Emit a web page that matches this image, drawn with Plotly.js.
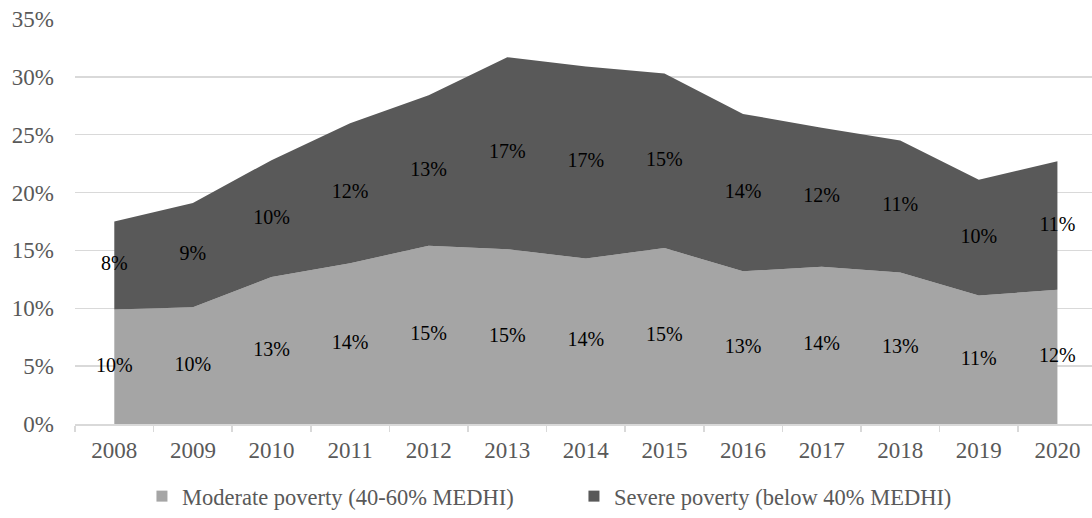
<!DOCTYPE html>
<html>
<head>
<meta charset="utf-8">
<script src="https://cdn.plot.ly/plotly-3.0.1.min.js"></script>
<style>html,body{margin:0;padding:0;background:#fff;}#chart{width:1092px;height:518px;}</style>
</head>
<body>
<div id="chart"></div>
<script>
var years = ['2008','2009','2010','2011','2012','2013','2014','2015','2016','2017','2018','2019','2020'];
var moderate = [9.9, 10.1, 12.7, 13.9, 15.4, 15.1, 14.3, 15.2, 13.2, 13.6, 13.1, 11.1, 11.6];
var severe = [7.6, 9.0, 10.1, 12.1, 13.0, 16.6, 16.6, 15.1, 13.6, 12.0, 11.4, 10.0, 11.1];
var seriesNames = ['Moderate poverty (40-60% MEDHI)', 'Severe poverty (below 40% MEDHI)'];
var colors = ['#a5a5a5', '#595959'];

var FONT = 'Liberation Serif, Times New Roman, serif';
function pct(v){ return Math.round(v) + '%'; }

var modMid = moderate.map(function(v){ return v/2; });
var sevMid = moderate.map(function(v,i){ return v + severe[i]/2; });

var traces = [
  {x: years, y: moderate, type:'scatter', mode:'none', stackgroup:'one', fillcolor: colors[0], line:{width:0}, showlegend:false, hoverinfo:'skip'},
  {x: years, y: severe, type:'scatter', mode:'none', stackgroup:'one', fillcolor: colors[1], line:{width:0}, showlegend:false, hoverinfo:'skip'},
  {x: years, y: modMid, type:'scatter', mode:'text', text: moderate.map(pct), textposition:'middle center', textfont:{family:FONT, size:20, color:'#000'}, showlegend:false, hoverinfo:'skip'},
  {x: years, y: sevMid, type:'scatter', mode:'text', text: severe.map(pct), textposition:'middle center', textfont:{family:FONT, size:20, color:'#000'}, showlegend:false, hoverinfo:'skip'},
  {x: [null], y: [null], type:'scatter', mode:'markers', name: seriesNames[0], marker:{symbol:'square', size:11, color: colors[0]}},
  {x: [null], y: [null], type:'scatter', mode:'markers', name: seriesNames[1], marker:{symbol:'square', size:11, color: colors[1]}}
];

var layout = {
  width: 1092, height: 518,
  margin: {l: 75, r: 0, t: 19, b: 94},
  paper_bgcolor: '#fff', plot_bgcolor: '#fff',
  font: {family: FONT, size: 23, color: '#595959'},
  xaxis: {
    type: 'category', range: [-0.5, 12.44],
    showgrid: false, zeroline: false,
    showline: true, linecolor: '#d9d9d9', linewidth: 1.5,
    ticks: 'outside', tickson: 'boundaries', ticklen: 6, tickcolor: '#d9d9d9', tickwidth: 1.5,
    tickfont: {family: FONT, size: 23, color: '#595959'},
    ticklabelstandoff: 5
  },
  yaxis: {
    range: [0, 35], dtick: 5, ticksuffix: '%',
    showgrid: true, gridcolor: '#d9d9d9', gridwidth: 1.5,
    zeroline: false, showline: false, ticks: '',
    tickfont: {family: FONT, size: 23, color: '#595959'},
    ticklabelstandoff: 20
  },
  showlegend: true,
  legend: {orientation: 'h', traceorder: 'normal', x: 0.130, xanchor: 'left', xref: 'container', y: 2, yref: 'container', yanchor: 'bottom',
           entrywidth: 387, entrywidthmode: 'pixels',
           font: {family: FONT, size: 22.5, color: '#595959'}, itemwidth: 30, bgcolor: 'rgba(0,0,0,0)'}
};

Plotly.newPlot('chart', traces, layout, {displayModeBar: false, staticPlot: true});
</script>
</body>
</html>
